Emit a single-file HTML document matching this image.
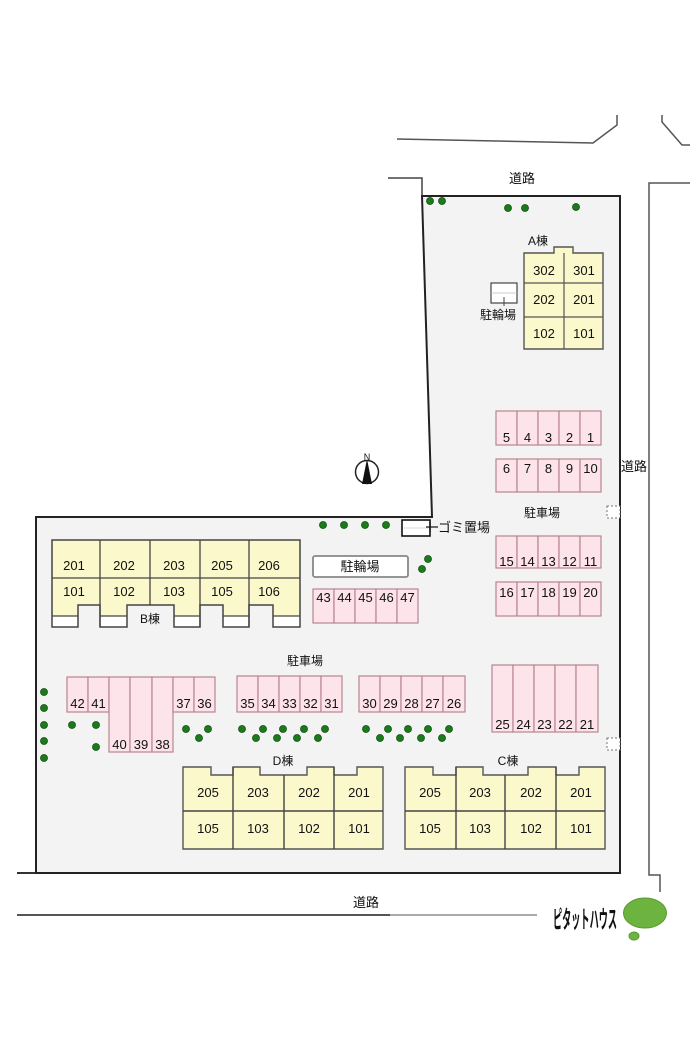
<!DOCTYPE html>
<html><head><meta charset="utf-8">
<style>
html,body{margin:0;padding:0;background:#fff;}
svg{display:block;}
text{font-family:"Liberation Sans","Noto Sans CJK JP",sans-serif;fill:#111;}
.n{font-size:13px;text-anchor:middle;}
.p{fill:#fde3ea;stroke:#b98590;stroke-width:1.2;}
.y{fill:#fbf8cc;stroke:#555;stroke-width:1.4;}
.t{fill:#1c7a1c;stroke:#0e4f0e;stroke-width:0.8;}
.l{font-size:12px;text-anchor:middle;}
</style></head>
<body>
<svg width="700" height="1050" viewBox="0 0 700 1050" xmlns="http://www.w3.org/2000/svg">
<rect width="700" height="1050" fill="#fff"/>

<!-- roads -->
<polyline points="397,139 593,143 617,125 617,115" fill="none" stroke="#555" stroke-width="1.5"/>
<polyline points="662,115 662,122 682,145 690,145" fill="none" stroke="#555" stroke-width="1.5"/>
<polyline points="388,178 422,178 422,196" fill="none" stroke="#444" stroke-width="1.5"/>
<polyline points="690,183 649,183 649,875 660,875 660,892" fill="none" stroke="#555" stroke-width="1.5"/>
<line x1="17" y1="915" x2="390" y2="915" stroke="#555" stroke-width="2"/>
<line x1="390" y1="915" x2="537" y2="915" stroke="#aaa" stroke-width="2"/>
<line x1="17" y1="873" x2="36" y2="873" stroke="#333" stroke-width="2"/>
<text x="522" y="183" class="l" style="font-size:13px">道路</text>
<text x="366" y="907" class="l" style="font-size:13px">道路</text>

<!-- site -->
<path d="M422,196 L620,196 L620,873 L36,873 L36,517 L432,517 Z" fill="#f3f3f3" stroke="#222" stroke-width="2"/>
<rect x="621" y="458" width="27" height="17" fill="#fff"/>
<text x="634" y="471" class="l" style="font-size:13px">道路</text>

<!-- trees top -->
<circle class="t" cx="430" cy="201" r="3.5"/><circle class="t" cx="442" cy="201" r="3.5"/>
<circle class="t" cx="508" cy="208" r="3.5"/><circle class="t" cx="525" cy="208" r="3.5"/>
<circle class="t" cx="576" cy="207" r="3.5"/>

<!-- A building -->
<text x="538" y="245" class="l">A棟</text>
<path class="y" d="M524,253 L554,253 L554,247 L573,247 L573,253 L603,253 L603,349 L524,349 Z"/>
<line x1="524" y1="283" x2="603" y2="283" stroke="#555" stroke-width="1.2"/>
<line x1="524" y1="317" x2="603" y2="317" stroke="#555" stroke-width="1.2"/>
<line x1="564" y1="253" x2="564" y2="349" stroke="#555" stroke-width="1.2"/>
<text x="544" y="275" class="n">302</text><text x="584" y="275" class="n">301</text>
<text x="544" y="304" class="n">202</text><text x="584" y="304" class="n">201</text>
<text x="544" y="338" class="n">102</text><text x="584" y="338" class="n">101</text>
<rect x="491" y="283" width="26" height="20" fill="#fff" stroke="#444" stroke-width="1.2"/>
<line x1="491" y1="293" x2="517" y2="293" stroke="#bbb" stroke-width="0.8"/>
<line x1="504" y1="297" x2="504" y2="306" stroke="#444" stroke-width="1"/>
<text x="498" y="319" class="l">駐輪場</text>

<!-- parking 1-10 -->
<g>
<rect class="p" x="496" y="411" width="21" height="34"/><rect class="p" x="517" y="411" width="21" height="34"/>
<rect class="p" x="538" y="411" width="21" height="34"/><rect class="p" x="559" y="411" width="21" height="34"/>
<rect class="p" x="580" y="411" width="21" height="34"/>
<text x="506.5" y="442" class="n">5</text><text x="527.5" y="442" class="n">4</text><text x="548.5" y="442" class="n">3</text><text x="569.5" y="442" class="n">2</text><text x="590.5" y="442" class="n">1</text>
<rect class="p" x="496" y="459" width="21" height="33"/><rect class="p" x="517" y="459" width="21" height="33"/>
<rect class="p" x="538" y="459" width="21" height="33"/><rect class="p" x="559" y="459" width="21" height="33"/>
<rect class="p" x="580" y="459" width="21" height="33"/>
<text x="506.5" y="473" class="n">6</text><text x="527.5" y="473" class="n">7</text><text x="548.5" y="473" class="n">8</text><text x="569.5" y="473" class="n">9</text><text x="590.5" y="473" class="n">10</text>
</g>
<text x="542" y="517" class="l">駐車場</text>
<rect x="607" y="506" width="13" height="12" fill="#fff" stroke="#777" stroke-width="1" stroke-dasharray="2,2"/>

<!-- parking 11-20 -->
<rect class="p" x="496" y="536" width="21" height="32"/><rect class="p" x="517" y="536" width="21" height="32"/>
<rect class="p" x="538" y="536" width="21" height="32"/><rect class="p" x="559" y="536" width="21" height="32"/>
<rect class="p" x="580" y="536" width="21" height="32"/>
<text x="506.5" y="566" class="n">15</text><text x="527.5" y="566" class="n">14</text><text x="548.5" y="566" class="n">13</text><text x="569.5" y="566" class="n">12</text><text x="590.5" y="566" class="n">11</text>
<rect class="p" x="496" y="582" width="21" height="34"/><rect class="p" x="517" y="582" width="21" height="34"/>
<rect class="p" x="538" y="582" width="21" height="34"/><rect class="p" x="559" y="582" width="21" height="34"/>
<rect class="p" x="580" y="582" width="21" height="34"/>
<text x="506.5" y="597" class="n">16</text><text x="527.5" y="597" class="n">17</text><text x="548.5" y="597" class="n">18</text><text x="569.5" y="597" class="n">19</text><text x="590.5" y="597" class="n">20</text>

<!-- compass -->
<text x="367" y="460" class="l" style="font-size:9px">N</text>
<circle cx="367" cy="472" r="11.5" fill="#fff" stroke="#222" stroke-width="1.5"/>
<polygon points="367,459 372,484 362,484" fill="#111"/>

<!-- gomi -->
<rect x="402" y="520" width="28" height="16" fill="#fff" stroke="#111" stroke-width="1.6"/>
<line x1="404" y1="528" x2="428" y2="528" stroke="#ccc" stroke-width="0.8"/>
<line x1="426" y1="527" x2="438" y2="527" stroke="#111" stroke-width="1.2"/>
<line x1="430" y1="522" x2="430" y2="532" stroke="#111" stroke-width="1.2"/>
<text x="438" y="532" style="font-size:13px">ゴミ置場</text>

<!-- trees middle -->
<circle class="t" cx="323" cy="525" r="3.5"/><circle class="t" cx="344" cy="525" r="3.5"/>
<circle class="t" cx="365" cy="525" r="3.5"/><circle class="t" cx="386" cy="525" r="3.5"/>
<circle class="t" cx="428" cy="559" r="3.5"/><circle class="t" cx="422" cy="569" r="3.5"/>

<!-- bike lower -->
<rect x="313" y="556" width="95" height="21" rx="2" fill="#fff" stroke="#888" stroke-width="1.8"/>
<text x="360" y="571" class="l" style="font-size:13px">駐輪場</text>

<!-- parking 43-47 -->
<rect class="p" x="313" y="589" width="21" height="34"/><rect class="p" x="334" y="589" width="21" height="34"/>
<rect class="p" x="355" y="589" width="21" height="34"/><rect class="p" x="376" y="589" width="21" height="34"/>
<rect class="p" x="397" y="589" width="21" height="34"/>
<text x="323.5" y="602" class="n">43</text><text x="344.5" y="602" class="n">44</text><text x="365.5" y="602" class="n">45</text><text x="386.5" y="602" class="n">46</text><text x="407.5" y="602" class="n">47</text>

<!-- B building -->
<rect x="52" y="540" width="248" height="65" fill="#fbf8cc"/>
<rect x="52" y="605" width="26" height="11" fill="#fbf8cc"/>
<rect x="100" y="605" width="27" height="11" fill="#fbf8cc"/>
<rect x="174" y="605" width="26" height="11" fill="#fbf8cc"/>
<rect x="223" y="605" width="26" height="11" fill="#fbf8cc"/>
<rect x="273" y="605" width="27" height="11" fill="#fbf8cc"/>
<rect x="52" y="616" width="26" height="11" fill="#fff"/>
<rect x="100" y="616" width="27" height="11" fill="#fff"/>
<rect x="174" y="616" width="26" height="11" fill="#fff"/>
<rect x="223" y="616" width="26" height="11" fill="#fff"/>
<rect x="273" y="616" width="27" height="11" fill="#fff"/>
<path d="M52,540 L300,540 L300,627 L273,627 L273,605 L249,605 L249,627 L223,627 L223,605 L200,605 L200,627 L174,627 L174,605 L127,605 L127,627 L100,627 L100,605 L78,605 L78,627 L52,627 Z" fill="none" stroke="#444" stroke-width="1.5"/>
<g stroke="#444" stroke-width="1.3">
<line x1="52" y1="578" x2="300" y2="578"/>
<line x1="100" y1="540" x2="100" y2="627"/><line x1="150" y1="540" x2="150" y2="605"/>
<line x1="200" y1="540" x2="200" y2="627"/><line x1="249" y1="540" x2="249" y2="627"/>
<line x1="52" y1="616" x2="78" y2="616"/><line x1="100" y1="616" x2="127" y2="616"/>
<line x1="174" y1="616" x2="200" y2="616"/><line x1="223" y1="616" x2="249" y2="616"/>
<line x1="273" y1="616" x2="300" y2="616"/>
</g>
<text x="74" y="570" class="n">201</text><text x="124" y="570" class="n">202</text><text x="174" y="570" class="n">203</text><text x="222" y="570" class="n">205</text><text x="269" y="570" class="n">206</text>
<text x="74" y="596" class="n">101</text><text x="124" y="596" class="n">102</text><text x="174" y="596" class="n">103</text><text x="222" y="596" class="n">105</text><text x="269" y="596" class="n">106</text>
<text x="150" y="623" class="l">B棟</text>

<text x="305" y="665" class="l">駐車場</text>

<!-- parking 36-42 -->
<rect class="p" x="67" y="677" width="21" height="35"/><rect class="p" x="88" y="677" width="21" height="35"/>
<rect class="p" x="109" y="677" width="21" height="75"/><rect class="p" x="130" y="677" width="22" height="75"/>
<rect class="p" x="152" y="677" width="21" height="75"/>
<rect class="p" x="173" y="677" width="21" height="35"/><rect class="p" x="194" y="677" width="21" height="35"/>
<text x="77.5" y="708" class="n">42</text><text x="98.5" y="708" class="n">41</text>
<text x="119.5" y="749" class="n">40</text><text x="141" y="749" class="n">39</text><text x="162.5" y="749" class="n">38</text>
<text x="183.5" y="708" class="n">37</text><text x="204.5" y="708" class="n">36</text>

<!-- parking 26-35 -->
<rect class="p" x="237" y="676" width="21" height="36"/><rect class="p" x="258" y="676" width="21" height="36"/>
<rect class="p" x="279" y="676" width="21" height="36"/><rect class="p" x="300" y="676" width="21" height="36"/>
<rect class="p" x="321" y="676" width="21" height="36"/>
<text x="247.5" y="708" class="n">35</text><text x="268.5" y="708" class="n">34</text><text x="289.5" y="708" class="n">33</text><text x="310.5" y="708" class="n">32</text><text x="331.5" y="708" class="n">31</text>
<rect class="p" x="359" y="676" width="21" height="36"/><rect class="p" x="380" y="676" width="21" height="36"/>
<rect class="p" x="401" y="676" width="21" height="36"/><rect class="p" x="422" y="676" width="21" height="36"/>
<rect class="p" x="443" y="676" width="22" height="36"/>
<text x="369.5" y="708" class="n">30</text><text x="390.5" y="708" class="n">29</text><text x="411.5" y="708" class="n">28</text><text x="432.5" y="708" class="n">27</text><text x="454" y="708" class="n">26</text>

<!-- parking 21-25 -->
<rect class="p" x="492" y="665" width="21" height="67"/><rect class="p" x="513" y="665" width="21" height="67"/>
<rect class="p" x="534" y="665" width="21" height="67"/><rect class="p" x="555" y="665" width="21" height="67"/>
<rect class="p" x="576" y="665" width="22" height="67"/>
<text x="502.5" y="729" class="n">25</text><text x="523.5" y="729" class="n">24</text><text x="544.5" y="729" class="n">23</text><text x="565.5" y="729" class="n">22</text><text x="587" y="729" class="n">21</text>
<rect x="607" y="738" width="13" height="12" fill="#fff" stroke="#777" stroke-width="1" stroke-dasharray="2,2"/>

<!-- trees lower -->
<g>
<circle class="t" cx="44" cy="692" r="3.5"/><circle class="t" cx="44" cy="708" r="3.5"/><circle class="t" cx="44" cy="725" r="3.5"/>
<circle class="t" cx="44" cy="741" r="3.5"/><circle class="t" cx="44" cy="758" r="3.5"/>
<circle class="t" cx="72" cy="725" r="3.5"/><circle class="t" cx="96" cy="725" r="3.5"/><circle class="t" cx="96" cy="747" r="3.5"/>
<circle class="t" cx="186" cy="729" r="3.5"/><circle class="t" cx="208" cy="729" r="3.5"/><circle class="t" cx="199" cy="738" r="3.5"/>
<circle class="t" cx="242" cy="729" r="3.5"/><circle class="t" cx="263" cy="729" r="3.5"/><circle class="t" cx="283" cy="729" r="3.5"/>
<circle class="t" cx="304" cy="729" r="3.5"/><circle class="t" cx="325" cy="729" r="3.5"/>
<circle class="t" cx="256" cy="738" r="3.5"/><circle class="t" cx="277" cy="738" r="3.5"/><circle class="t" cx="297" cy="738" r="3.5"/><circle class="t" cx="318" cy="738" r="3.5"/>
<circle class="t" cx="366" cy="729" r="3.5"/><circle class="t" cx="388" cy="729" r="3.5"/><circle class="t" cx="408" cy="729" r="3.5"/>
<circle class="t" cx="428" cy="729" r="3.5"/><circle class="t" cx="449" cy="729" r="3.5"/>
<circle class="t" cx="380" cy="738" r="3.5"/><circle class="t" cx="400" cy="738" r="3.5"/><circle class="t" cx="421" cy="738" r="3.5"/><circle class="t" cx="442" cy="738" r="3.5"/>
</g>

<!-- D building -->
<text x="283" y="765" class="l">D棟</text>
<path class="y" d="M183,767 L211,767 L211,775 L233,775 L233,767 L260,767 L260,775 L307,775 L307,767 L334,767 L334,775 L357,775 L357,767 L383,767 L383,849 L183,849 Z"/>
<g stroke="#444" stroke-width="1.4">
<line x1="183" y1="811" x2="383" y2="811"/>
<line x1="233" y1="767" x2="233" y2="849"/><line x1="284" y1="775" x2="284" y2="849"/><line x1="334" y1="767" x2="334" y2="849"/>
</g>
<text x="208" y="797" class="n">205</text><text x="258" y="797" class="n">203</text><text x="309" y="797" class="n">202</text><text x="359" y="797" class="n">201</text>
<text x="208" y="833" class="n">105</text><text x="258" y="833" class="n">103</text><text x="309" y="833" class="n">102</text><text x="359" y="833" class="n">101</text>

<!-- C building -->
<text x="508" y="765" class="l">C棟</text>
<path class="y" d="M405,767 L433,767 L433,775 L456,775 L456,767 L483,767 L483,775 L528,775 L528,767 L556,767 L556,775 L579,775 L579,767 L605,767 L605,849 L405,849 Z"/>
<g stroke="#444" stroke-width="1.4">
<line x1="405" y1="811" x2="605" y2="811"/>
<line x1="456" y1="767" x2="456" y2="849"/><line x1="505" y1="775" x2="505" y2="849"/><line x1="556" y1="767" x2="556" y2="849"/>
</g>
<text x="430" y="797" class="n">205</text><text x="480" y="797" class="n">203</text><text x="531" y="797" class="n">202</text><text x="581" y="797" class="n">201</text>
<text x="430" y="833" class="n">105</text><text x="480" y="833" class="n">103</text><text x="531" y="833" class="n">102</text><text x="581" y="833" class="n">101</text>

<!-- logo -->
<g transform="translate(553,928) scale(1,1.35)">
<text x="0" y="0" textLength="64" lengthAdjust="spacingAndGlyphs" style="font-size:18px;font-weight:bold;fill:#111">ピタットハウス</text>
</g>
<ellipse cx="645" cy="913" rx="21.5" ry="15" fill="#6db33f" stroke="#5a9a30" stroke-width="1"/>
<ellipse cx="634" cy="936" rx="5" ry="4" fill="#6db33f" stroke="#5a9a30" stroke-width="1"/>
</svg>
</body></html>
